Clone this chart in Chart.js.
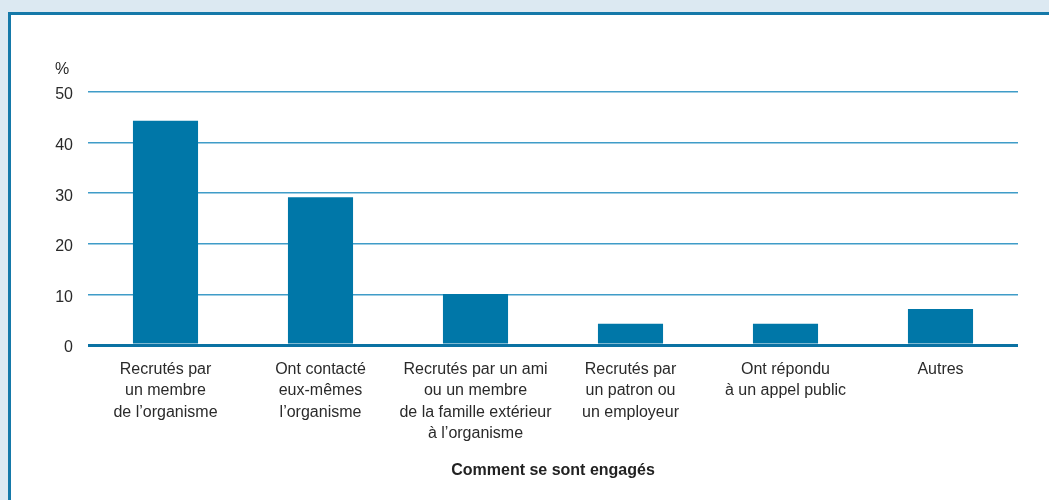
<!DOCTYPE html>
<html lang="fr">
<head>
<meta charset="utf-8">
<script src="https://cdn.jsdelivr.net/npm/chart.js@4.4.0/dist/chart.umd.min.js"></script>
<style>
  html, body { margin: 0; padding: 0; width: 1049px; height: 500px; overflow: hidden; background: #dce9f2; }
  #cadre { position: absolute; left: 8px; top: 12px; width: 1100px; height: 600px; background: #fff; border-left: 3px solid #1579a9; border-top: 3px solid #1579a9; }
  #zone { position: absolute; left: 0; top: 0; width: 1049px; height: 500px; }
</style>
</head>
<body>
<div id="cadre"></div>
<div id="zone"><canvas id="graphique"></canvas></div>
<script>
// Données du graphique
const categories = [
    ['Recrutés par', 'un membre', 'de l\u2019organisme'],
    ['Ont contacté', 'eux-mêmes', 'l\u2019organisme'],
    ['Recrutés par un ami', 'ou un membre', 'de la famille extérieur', 'à l\u2019organisme'],
    ['Recrutés par', 'un patron ou', 'un employeur'],
    ['Ont répondu', 'à un appel public'],
    ['Autres']
];
const valeurs = [44.3, 29.2, 10.1, 4.2, 4.2, 7.1];
const ticksY = [0, 10, 20, 30, 40, 50];
const titreX = 'Comment se sont engagés';
const uniteY = '%';

const police = '"Liberation Sans", Arial, sans-serif';
const bleu = '#0077a8';

// Petit plugin pour écrire le « % » au-dessus de l'axe Y
const unitePlugin = {
    id: 'unite',
    afterDraw(chart) {
        const c = chart.ctx;
        c.save();
        c.font = '16px ' + police;
        c.fillStyle = '#2a2a2a';
        c.textAlign = 'left';
        c.textBaseline = 'middle';
        c.fillText(uniteY, chart.chartArea.left - 33, chart.chartArea.top - 22);
        c.restore();
    }
};

const ctx = document.getElementById('graphique').getContext('2d');
const chart = new Chart(ctx, {
    type: 'bar',
    data: {
        labels: categories,
        datasets: [{
            data: valeurs,
            backgroundColor: bleu,
            borderWidth: 0,
            barPercentage: 0.84,
            categoryPercentage: 0.5
        }]
    },
    options: {
        responsive: true,
        maintainAspectRatio: false,
        animation: false,
        layout: { padding: { top: 92, right: 31, bottom: 16, left: 0 } },
        plugins: {
            legend: { display: false },
            tooltip: { enabled: false }
        },
        scales: {
            x: {
                grid: { display: false, drawTicks: false },
                border: { display: false },
                ticks: {
                    color: '#2a2a2a',
                    padding: 14,
                    maxRotation: 0,
                    autoSkip: false,
                    font: { family: police, size: 16, lineHeight: 1.33 }
                },
                title: {
                    display: true,
                    text: titreX,
                    color: '#222',
                    font: { family: police, size: 16, weight: 'bold' }
                },
                afterFit: (s) => { s.height = 139; }
            },
            y: {
                min: 0,
                max: 50,
                afterBuildTicks: (s) => { s.ticks = ticksY.map(v => ({ value: v })); },
                grid: {
                    drawTicks: false,
                    color: (c) => c.tick && c.tick.value === 0 ? '#0b72a3' : '#3f9cc8',
                    lineWidth: (c) => c.tick && c.tick.value === 0 ? 3 : 1.5
                },
                border: { display: false },
                ticks: {
                    color: '#2a2a2a',
                    padding: 15,
                    labelOffset: 3,
                    font: { family: police, size: 16 }
                },
                afterFit: (s) => { s.width = 88; }
            }
        }
    },
    plugins: [unitePlugin]
});
</script>
</body>
</html>
